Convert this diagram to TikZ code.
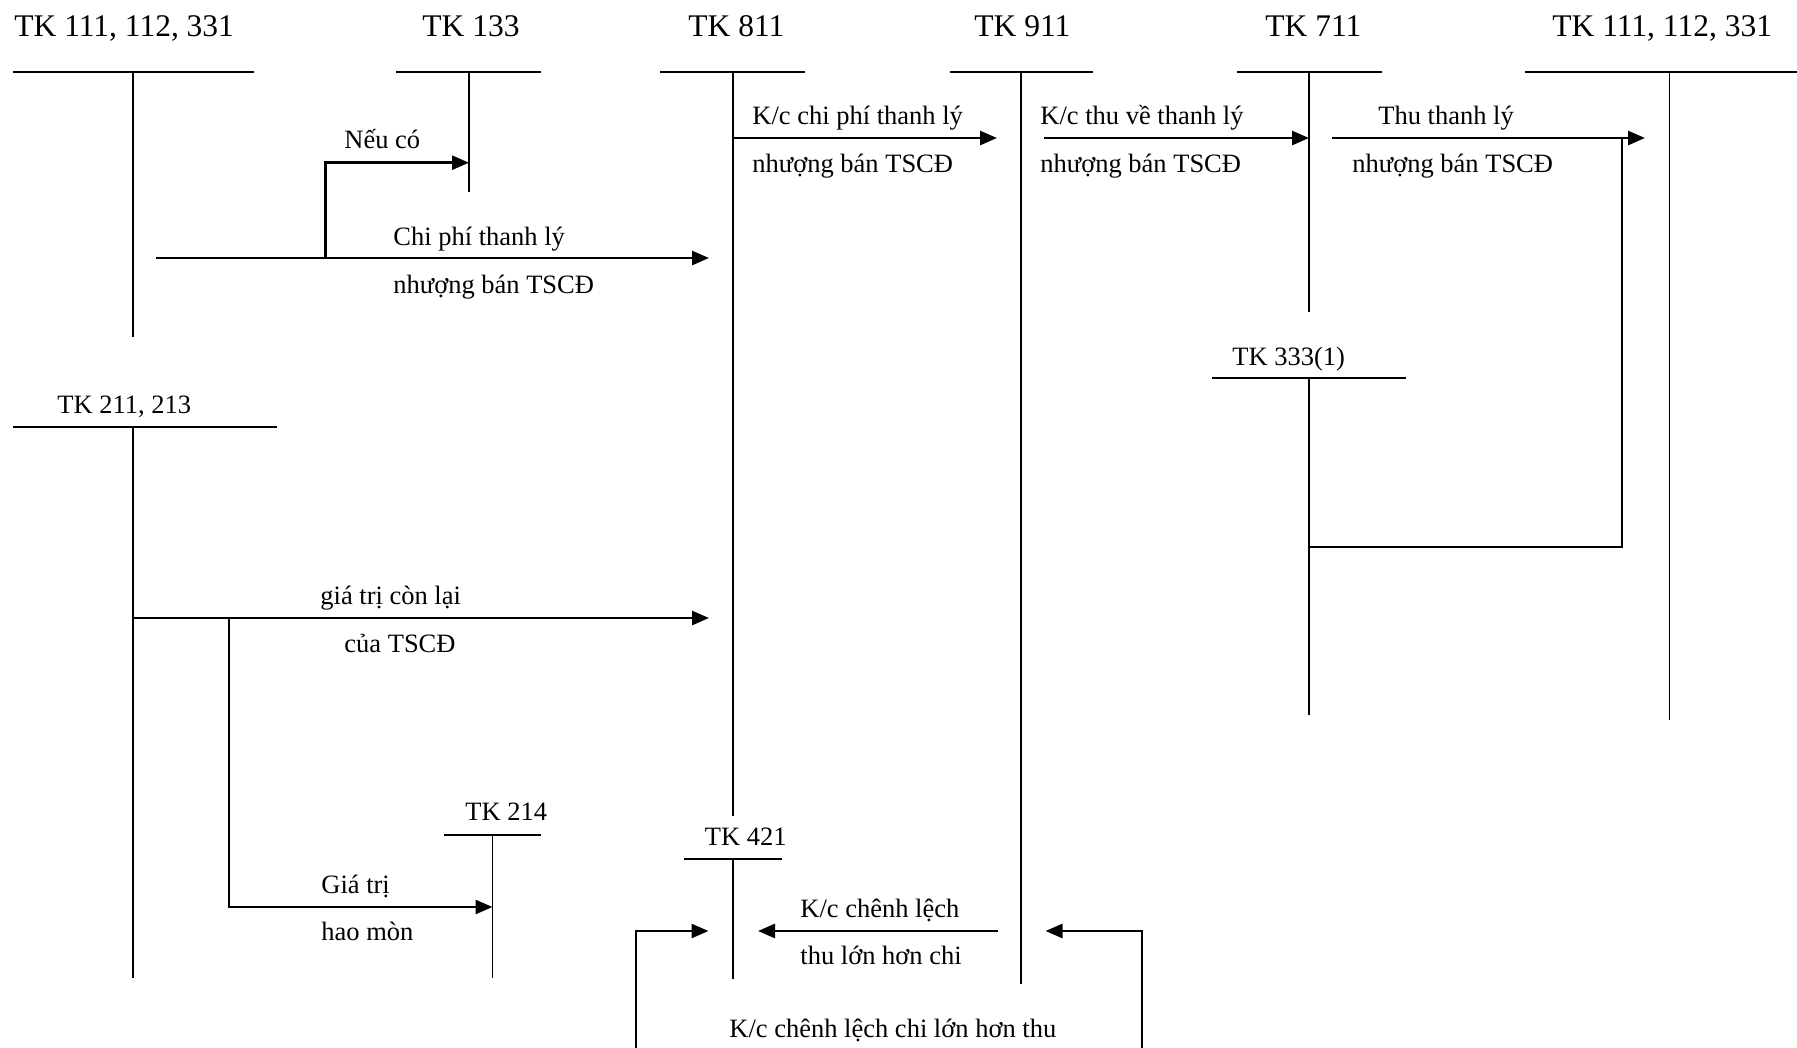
\documentclass[tikz,border=0pt]{standalone}
\usepackage{fontspec}
\setmainfont{Liberation Serif}
\usetikzlibrary{arrows.meta}

\begin{document}
\begin{tikzpicture}[x=0.5pt,y=-0.5pt,
  hd/.style={font=\fontsize{15.75pt}{18pt}\selectfont, anchor=base west, inner sep=0pt},
  lb/.style={font=\fontsize{13.25pt}{16pt}\selectfont, anchor=base west, inner sep=0pt},
  bar/.style={line width=1.2pt},
  stem/.style={line width=0.85pt},
  flow/.style={line width=1.3pt, -{Triangle[length=8.5pt,width=7pt]}},
  link/.style={line width=1.1pt},
]
\useasboundingbox (0,0) rectangle (1797,1048);

% ---------- T-accounts along the top ----------
\node[hd] (hA) at (14,37) {TK 111, 112, 331};
\coordinate (A1) at (13,72);  \coordinate (A2) at (254,72);
\coordinate (At) at (133,72); \coordinate (Ab) at (133,337);
\draw[bar] (A1) -- (A2); \draw[stem] (At) -- (Ab);

\node[hd] (hB) at (422,37) {TK 133};
\coordinate (B1) at (396,72); \coordinate (B2) at (541,72);
\coordinate (Bt) at (469,72); \coordinate (Bb) at (469,192);
\draw[bar] (B1) -- (B2); \draw[stem] (Bt) -- (Bb);

\node[hd] (hC) at (688,37) {TK 811};
\coordinate (C1) at (660,72); \coordinate (C2) at (805,72);
\coordinate (Ct) at (733,72); \coordinate (Cb) at (733,816);
\draw[bar] (C1) -- (C2); \draw[stem] (Ct) -- (Cb);

\node[hd] (hD) at (974,37) {TK 911};
\coordinate (D1) at (950,72); \coordinate (D2) at (1093,72);
\coordinate (Dt) at (1021,72); \coordinate (Db) at (1021,984);
\draw[bar] (D1) -- (D2); \draw[stem] (Dt) -- (Db);

\node[hd] (hE) at (1265,37) {TK 711};
\coordinate (E1) at (1237,72); \coordinate (E2) at (1382,72);
\coordinate (Et) at (1309,72); \coordinate (Eb) at (1309,312);
\draw[bar] (E1) -- (E2); \draw[stem] (Et) -- (Eb);

\node[hd] (hF) at (1552,37) {TK 111, 112, 331};
\coordinate (F1) at (1525,72); \coordinate (F2) at (1797,72);
\coordinate (Ft) at (1669.5,72); \coordinate (Fb) at (1669.5,720);
\draw[bar] (F1) -- (F2); \draw[stem] (Ft) -- (Fb);

% ---------- lower T-accounts ----------
\node[lb] (hG) at (1232,365) {TK 333(1)};
\coordinate (G1) at (1212,378); \coordinate (G2) at (1406,378);
\coordinate (Gt) at (1309,378); \coordinate (Gb) at (1309,715);
\draw[bar] (G1) -- (G2); \draw[stem] (Gt) -- (Gb);

\node[lb] (hH) at (57,413) {TK 211, 213};
\coordinate (H1) at (13,427); \coordinate (H2) at (277,427);
\coordinate (Ht) at (133,427); \coordinate (Hb) at (133,978);
\draw[bar] (H1) -- (H2); \draw[stem] (Ht) -- (Hb);

\node[lb] (hJ) at (465,820) {TK 214};
\coordinate (J1) at (444,835); \coordinate (J2) at (541,835);
\coordinate (Jt) at (492.5,835); \coordinate (Jb) at (492.5,978);
\draw[bar] (J1) -- (J2); \draw[stem] (Jt) -- (Jb);

\node[lb] (hK) at (704.5,845) {TK 421};
\coordinate (K1) at (684,859); \coordinate (K2) at (782,859);
\coordinate (Kt) at (733,859); \coordinate (Kb) at (733,979);
\draw[bar] (K1) -- (K2); \draw[stem] (Kt) -- (Kb);

% ---------- selling costs: TK 111 -> TK 811, VAT branch -> TK 133 ----------
\coordinate (p1s) at (156,258);   \coordinate (p1e) at (709,258);
\coordinate (p1b) at (325.5,258); \coordinate (p1c) at (325.5,162.7);
\coordinate (p1t) at (469,162.7);
\draw[flow] (p1s) -- (p1e);
\draw[flow] (p1b) -- (p1c) -- (p1t);
\node[lb] (l1a) at (344,149) {Nếu có};
\node[lb] (l1b) at (393,245) {Chi phí thanh lý};
\node[lb] (l1c) at (393,293) {nhượng bán TSCĐ};

% ---------- TK 811 -> TK 911 ----------
\coordinate (p2s) at (733,138); \coordinate (p2e) at (997,138);
\draw[flow] (p2s) -- (p2e);
\node[lb] (l2a) at (752,125) {K/c chi phí thanh lý};
\node[lb] (l2b) at (752,173) {nhượng bán TSCĐ};

% ---------- TK 911 -> TK 711 ----------
\coordinate (p3s) at (1044,138); \coordinate (p3e) at (1309,138);
\draw[flow] (p3s) -- (p3e);
\node[lb] (l3a) at (1040,125) {K/c thu về thanh lý};
\node[lb] (l3b) at (1040,173) {nhượng bán TSCĐ};

% ---------- TK 711 -> TK 111, output VAT branch to TK 333(1) ----------
\coordinate (p4s) at (1332,138); \coordinate (p4e) at (1645,138);
\coordinate (p4b) at (1622,138); \coordinate (p4c) at (1622,547);
\coordinate (p4t) at (1309,547);
\draw[flow] (p4s) -- (p4e);
\draw[link] (p4b) -- (p4c) -- (p4t);
\node[lb] (l4a) at (1378,125) {Thu thanh lý};
\node[lb] (l4b) at (1352,173) {nhượng bán TSCĐ};

% ---------- TK 211 -> TK 811 and TK 214 ----------
\coordinate (p5s) at (133,618);  \coordinate (p5e) at (709,618);
\coordinate (p5b) at (229,618);  \coordinate (p5c) at (229,907);
\coordinate (p5t) at (492.5,907);
\draw[flow] (p5s) -- (p5e);
\draw[flow] (p5b) -- (p5c) -- (p5t);
\node[lb] (l5a) at (320,604) {giá trị còn lại};
\node[lb] (l5b) at (344,652) {của TSCĐ};
\node[lb] (l5c) at (321,893) {Giá trị};
\node[lb] (l5d) at (321,940) {hao mòn};

% ---------- closing the result into TK 421 ----------
\coordinate (p6s) at (998,931); \coordinate (p6e) at (758,931);
\draw[flow] (p6s) -- (p6e);
\node[lb] (l6a) at (800,917) {K/c chênh lệch};
\node[lb] (l6b) at (800,964) {thu lớn hơn chi};

\coordinate (p7s) at (636,1048); \coordinate (p7c) at (636,931);
\coordinate (p7e) at (708.5,931);
\draw[flow] (p7s) -- (p7c) -- (p7e);
\coordinate (p8s) at (1142,1048); \coordinate (p8c) at (1142,931);
\coordinate (p8e) at (1045.5,931);
\draw[flow] (p8s) -- (p8c) -- (p8e);
\node[lb] (l7) at (729,1037) {K/c chênh lệch chi lớn hơn thu};

\end{tikzpicture}
\end{document}
